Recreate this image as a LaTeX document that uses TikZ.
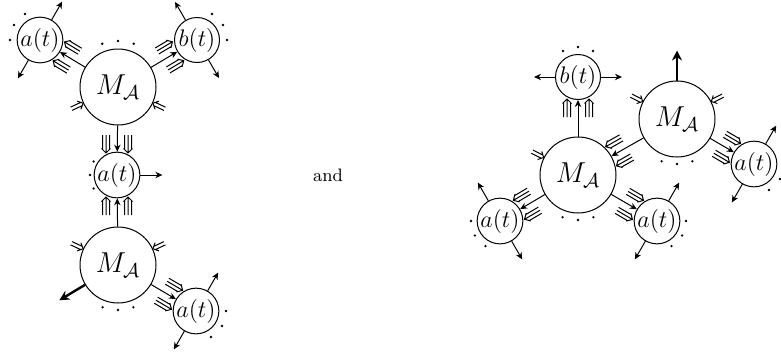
\documentclass[tikz,border=0pt]{standalone}
\usepackage{amsmath,amssymb}
\usetikzlibrary{arrows.meta}

\begin{document}
\begin{tikzpicture}[x=0.5pt, y=0.5pt, line width=0.5pt,
    bigc/.style={draw, circle, inner sep=0pt, minimum size=38pt, font=\Large},
    smallc/.style={draw, circle, inner sep=0pt, minimum size=22.5pt, font=\large},
    arr/.style={-{Stealth[length=3.5pt, width=3.2pt]}},
    bold/.style={-{Stealth[length=5pt, width=5pt]}, line width=1.2pt},
    tripair/.pic={
      \foreach \s in {-1,1}
        \draw[shift={(-#1,\s*11)}] (-18,0) -- (0,0)
          (-18,3.5) -- (-3.5,3.5) (-18,-3.5) -- (-3.5,-3.5)
          (-4.5,4.5) -- (0,0) -- (-4.5,-4.5);
    },
    dbl/.pic={
      \draw (-13,1.8) -- (-1.8,1.8) (-13,-1.8) -- (-1.8,-1.8)
        (-4.5,4.5) -- (0,0) -- (-4.5,-4.5);
    }
  ]
  \useasboundingbox (0,0) rectangle (781,355);

  % left diagram
  \node[bigc]   (ma1) at (118,268) {$M_{\mathcal{A}}$};
  \node[smallc] (a1)  at (40,315)  {$a(t)$};
  \node[smallc] (b1)  at (197,315) {$b(t)$};
  \node[smallc] (a2)  at (117,180) {$a(t)$};
  \node[bigc]   (ma2) at (118,90)  {$M_{\mathcal{A}}$};
  \node[smallc] (a3)  at (196,44)  {$a(t)$};

  \draw[arr] (ma1) -- (a1);
  \draw[arr] (ma1) -- (b1);
  \draw[arr] (ma1) -- (a2);
  \draw[arr] (ma2) -- (a2);
  \draw[arr] (ma2) -- (a3);
  \pic[rotate=148.9] at (a1) {tripair=22};
  \pic[rotate=30.7]  at (b1) {tripair=22};
  \pic[rotate=-90]   at (a2) {tripair=22};
  \pic[rotate=90]    at (a2) {tripair=22};
  \pic[rotate=-30.5] at (a3) {tripair=22};
  \pic[rotate=25]  at (ma1.205) {dbl};
  \pic[rotate=155] at (ma1.335) {dbl};
  \pic[rotate=335] at (ma2.155) {dbl};
  \pic[rotate=205] at (ma2.25)  {dbl};

  \draw[arr] (a1.60)  -- ++(60:21);
  \draw[arr] (a1.240) -- ++(240:21);
  \draw[arr] (b1.120) -- ++(120:21);
  \draw[arr] (b1.300) -- ++(300:21);
  \draw[arr] (a2.0)   -- ++(0:22);
  \draw[arr] (a3.60)  -- ++(60:21);
  \draw[arr] (a3.240) -- ++(240:21);
  \draw[bold] (ma2.211) -- ++(211:30);

  \foreach \t in {70,90,110}   \fill (ma1) ++(\t:46) circle (1.3);
  \foreach \t in {120,150,180} \fill (a1) ++(\t:30) circle (1.3);
  \foreach \t in {0,30,60}     \fill (b1) ++(\t:30) circle (1.3);
  \foreach \t in {150,180,210} \fill (a2) ++(\t:27) circle (1.3);
  \foreach \t in {250,270,290} \fill (ma2) ++(\t:45) circle (1.3);
  \foreach \t in {0,-30,-60}   \fill (a3) ++(\t:30) circle (1.3);

  \node[font=\small] (and) at (328,180) {and};

  % right diagram
  \node[smallc] (b2)  at (578,278) {$b(t)$};
  \node[bigc]   (ma3) at (578,180) {$M_{\mathcal{A}}$};
  \node[bigc]   (ma4) at (677,236) {$M_{\mathcal{A}}$};
  \node[smallc] (a4)  at (754,191) {$a(t)$};
  \node[smallc] (a5)  at (500,134) {$a(t)$};
  \node[smallc] (a6)  at (657,134) {$a(t)$};

  \draw[arr] (ma3) -- (b2);
  \draw[arr] (ma4) -- (ma3);
  \draw[arr] (ma4) -- (a4);
  \draw[arr] (ma3) -- (a5);
  \draw[arr] (ma3) -- (a6);
  \pic[rotate=90]    at (b2)  {tripair=22};
  \pic[rotate=209.5] at (ma3) {tripair=38};
  \pic[rotate=-30.3] at (a4)  {tripair=22};
  \pic[rotate=210.5] at (a5)  {tripair=22};
  \pic[rotate=-30.2] at (a6)  {tripair=22};
  \pic[rotate=333] at (ma4.153) {dbl};
  \pic[rotate=207] at (ma4.27)  {dbl};
  \pic[rotate=333] at (ma3.153) {dbl};

  \draw[arr] (b2.180) -- ++(180:21);
  \draw[arr] (b2.0)   -- ++(0:21);
  \draw[arr] (a4.60)  -- ++(60:21);
  \draw[arr] (a4.240) -- ++(240:21);
  \draw[arr] (a5.120) -- ++(120:21);
  \draw[arr] (a5.300) -- ++(300:21);
  \draw[arr] (a6.60)  -- ++(60:21);
  \draw[arr] (a6.240) -- ++(240:21);
  \draw[bold] (ma4.90) -- ++(90:30);

  \foreach \t in {60,90,120}   \fill (b2) ++(\t:30) circle (1.3);
  \foreach \t in {250,270,290} \fill (ma4) ++(\t:45) circle (1.3);
  \foreach \t in {0,-30,-60}   \fill (a4) ++(\t:30) circle (1.3);
  \foreach \t in {250,270,290} \fill (ma3) ++(\t:45) circle (1.3);
  \foreach \t in {180,210,240} \fill (a5) ++(\t:29) circle (1.3);
  \foreach \t in {0,-30,-60}   \fill (a6) ++(\t:29) circle (1.3);
\end{tikzpicture}
\end{document}
